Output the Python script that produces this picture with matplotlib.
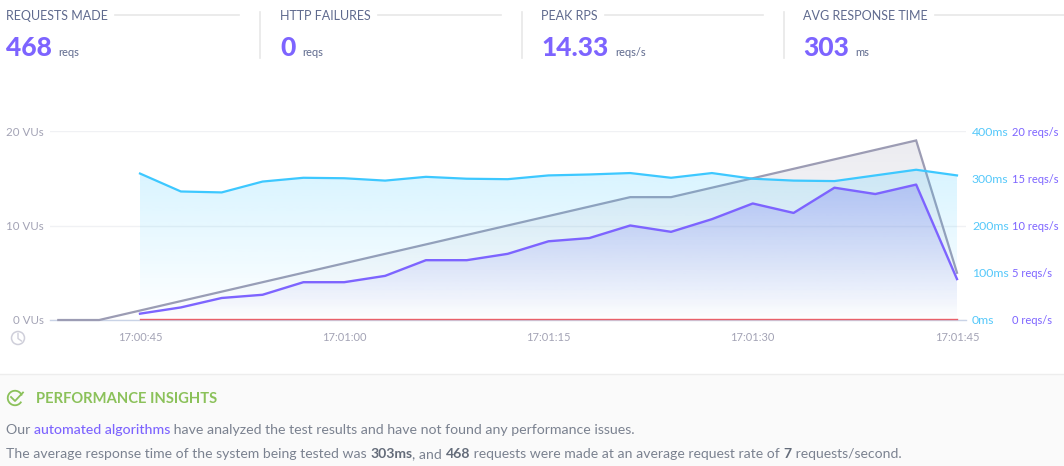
import numpy as np
import pandas as pd
import matplotlib
matplotlib.use("Agg")
import matplotlib.pyplot as plt
from matplotlib.patches import Circle, Arc, Rectangle
from matplotlib.transforms import offset_copy

plt.rcParams['font.family'] = ['Lato', 'DejaVu Sans']

times = ["17:00:39", "17:00:42", "17:00:45", "17:00:48", "17:00:51", "17:00:54", "17:00:57", "17:01:00",
         "17:01:03", "17:01:06", "17:01:09", "17:01:12", "17:01:15", "17:01:18", "17:01:21", "17:01:24",
         "17:01:27", "17:01:30", "17:01:33", "17:01:36", "17:01:39", "17:01:42", "17:01:45"]
vus = [0, 0, 1, 2, 3, 4, 5, 6, 7, 8, 9, 10, 11, 12, 13, 13, 14, 15, 16, 17, 18, 19, 5]
resp_ms = [np.nan, np.nan, 310, 272, 270, 293, 301, 300, 295, 303, 299, 298, 306, 308, 311, 301, 311, 299,
           295, 294, 306, 318, 306]
req_rate = [np.nan, np.nan, 0.67, 1.33, 2.33, 2.67, 4, 4, 4.67, 6.33, 6.33, 7, 8.33, 8.67, 10, 9.33, 10.67,
            12.33, 11.33, 14, 13.33, 14.33, 4.33]
failures = [np.nan, np.nan] + [0] * 21
tick_times = ["17:00:45", "17:01:00", "17:01:15", "17:01:30", "17:01:45"]
vu_ticks = [0, 10, 20]
ms_ticks = [0, 100, 200, 300, 400]
rps_ticks = [0, 5, 10, 15, 20]

stats = [("REQUESTS MADE", "468", "reqs"), ("HTTP FAILURES", "0", "reqs"),
         ("PEAK RPS", "14.33", "reqs/s"), ("AVG RESPONSE TIME", "303", "ms")]

W, H = 1064, 466
PURPLE, CYAN, GRAY, RED = "#7D64FF", "#3DC8FF", "#9C9CB4", "#E8606A"
TITLE_C, MUTED, BODY = "#5F6A8E", "#A3A3B5", "#7B8290"

fig = plt.figure(figsize=(W / 100, H / 100), dpi=100, facecolor="white")
t = pd.to_datetime(times, format="%H:%M:%S")
secs = np.array((t - t[0]).total_seconds())
tick_secs = np.array((pd.to_datetime(tick_times, format="%H:%M:%S") - t[0]).total_seconds())

# pixel overlay for the page furniture
ov = fig.add_axes([0, 0, 1, 1], zorder=0)
ov.set_xlim(0, W)
ov.set_ylim(H, 0)
ov.axis("off")
ov.add_patch(Rectangle((0, 374), W, 92, fc="#FAFAFA", ec="none"))
ov.plot([0, W], [373.5, 373.5], color="#EDEDED", lw=1)

L, R, TOP, BOT = 50, 966, 131, 320
rect = [L / W, 1 - BOT / H, (R - L) / W, (BOT - TOP) / H]
px_per_s = (957 - 140) / 60
xlim = (-(58.3 - L) / px_per_s, (R - 58.3) / px_per_s)

ax = fig.add_axes(rect, zorder=1)
ax_ms = fig.add_axes(rect, zorder=2, sharex=ax)
ax_rps = fig.add_axes(rect, zorder=3, sharex=ax)
for a in (ax, ax_ms, ax_rps):
    a.patch.set_visible(False)
    for s in a.spines.values():
        s.set_visible(False)


def grad_fill(a, x, y, color, top_alpha, ytop, order):
    x, y = np.asarray(x, float), np.asarray(y, float)
    m = ~np.isnan(y)
    poly = a.fill_between(x[m], 0, y[m], color="none", lw=0)
    n = 256
    rgba = np.zeros((n, 1, 4))
    rgba[..., :3] = matplotlib.colors.to_rgb(color)
    rgba[:, 0, 3] = np.linspace(top_alpha, 0, n)
    im = a.imshow(rgba, extent=(x[m][0], x[m][-1], 0, ytop), aspect="auto", origin="upper",
                  zorder=order, interpolation="bilinear")
    im.set_clip_path(poly.get_paths()[0], transform=a.transData)


# VUs
grad_fill(ax, secs, vus, "#8C8CA8", 0.17, 19, 1)
ax.plot(secs, vus, color=GRAY, lw=1.6, zorder=3, clip_on=False, solid_joinstyle="miter")
ax.set_ylim(0, 20)
ax.set_yticks(vu_ticks)
ax.set_yticklabels([f"{v} VUs" for v in vu_ticks], color=MUTED, fontsize=8.3)
ax.tick_params(axis="y", length=0, pad=4.5)
ax.grid(axis="y", color="#F0F1F4", lw=1)
ax.set_axisbelow(True)
ax.set_xticks(tick_secs)
ax.set_xticklabels(tick_times, color=MUTED, fontsize=8)
ax.tick_params(axis="x", length=0, pad=8.5)
ax.spines["bottom"].set_visible(True)
ax.spines["bottom"].set_color("#C9D3E6")
ax.spines["bottom"].set_linewidth(1)

# response time
grad_fill(ax_ms, secs, resp_ms, CYAN, 0.20, 318, 1)
ax_ms.plot(secs, resp_ms, color=CYAN, lw=1.6, zorder=3)
ax_ms.set_ylim(0, 400)
ax_ms.yaxis.tick_right()
ax_ms.set_yticks(ms_ticks)
ax_ms.set_yticklabels([f"{v}ms" for v in ms_ticks], color="#55C8FA", fontsize=8.8)
ax_ms.tick_params(axis="y", length=0, pad=4.3)
ax_ms.tick_params(axis="x", length=0, labelbottom=False)

# request rate
grad_fill(ax_rps, secs, req_rate, "#6A6CF0", 0.30, 14.33, 1)
ax_rps.plot(secs, req_rate, color=PURPLE, lw=1.7, zorder=3)
ax_rps.plot(secs, failures, color=RED, lw=1.0, zorder=4, clip_on=False,
            transform=offset_copy(ax_rps.transData, fig, y=1, units="dots"))
ax_rps.set_ylim(0, 20)
ax_rps.yaxis.tick_right()
ax_rps.set_yticks(rps_ticks)
ax_rps.set_yticklabels([f"{v} reqs/s" for v in rps_ticks], color=PURPLE, fontsize=8.0)
ax_rps.tick_params(axis="y", length=0, pad=33)
ax_rps.tick_params(axis="x", length=0, labelbottom=False)

for a in (ax, ax_ms, ax_rps):
    a.set_xlim(*xlim)

# clock icon
ov.add_patch(Circle((18, 338), 6.5, fc="none", ec="#CFCFDA", lw=1.1))
ov.plot([18, 18, 21.5], [333.5, 338.5, 341], color="#CFCFDA", lw=1)

fig.canvas.draw()
rend = fig.canvas.get_renderer()


def seq(x, y, parts):
    """Write text parts one after another from pixel x on baseline pixel y."""
    for s, kw in parts:
        tx = ov.text(x, y, s, va="baseline", ha="left", **kw)
        x = tx.get_window_extent(rend).x1
    return x


# stat tiles
tile_x = [6, 280, 541, 803]
rule_end = [239, 501, 763, W]
for (title, big, unit), x0, x1 in zip(stats, tile_x, rule_end):
    end = seq(x0, 19.5, [(title, dict(color=TITLE_C, fontsize=9.0))])
    ov.plot([end + 7, x1], [15, 15], color="#E8E8E8", lw=1.2)
    end = seq(x0, 56.5, [(big, dict(color=PURPLE, fontsize=19.0, fontweight="black"))])
    seq(end + 6.5, 56.5, [(unit, dict(color=TITLE_C, fontsize=8.0))])
for x in (260, 522, 784):
    ov.plot([x, x], [12, 58], color="#E8E8E8", lw=1.2)

# insights
GREEN = "#8BC15A"
ov.add_patch(Arc((15, 398), 14.5, 14.5, theta1=-330, theta2=-20, ec=GREEN, lw=1.3))
ov.plot([11, 15, 23], [397, 401, 392.5], color=GREEN, lw=1.3)
seq(36, 403, [("PERFORMANCE INSIGHTS", dict(color=GREEN, fontsize=10.6, fontweight="bold"))])
FS = 10.15
n = dict(color=BODY, fontsize=FS)
seq(6, 434, [("Our ", n), ("automated algorithms", dict(color=PURPLE, fontsize=FS, fontweight="medium")),
             (" have analyzed the test results and have not found any performance issues.", n)])
FS2 = 10.08
n2 = dict(color=BODY, fontsize=FS2)
b2 = dict(color="#646C7A", fontsize=FS2, fontweight="bold")
seq(6, 458, [("The average response time of the system being tested was ", n2), ("303ms", b2),
             (", and ", n2), ("468", b2), (" requests were made at an average request rate of ", n2),
             ("7", b2), (" requests/second.", n2)])

fig.savefig("out.png", dpi=100)
